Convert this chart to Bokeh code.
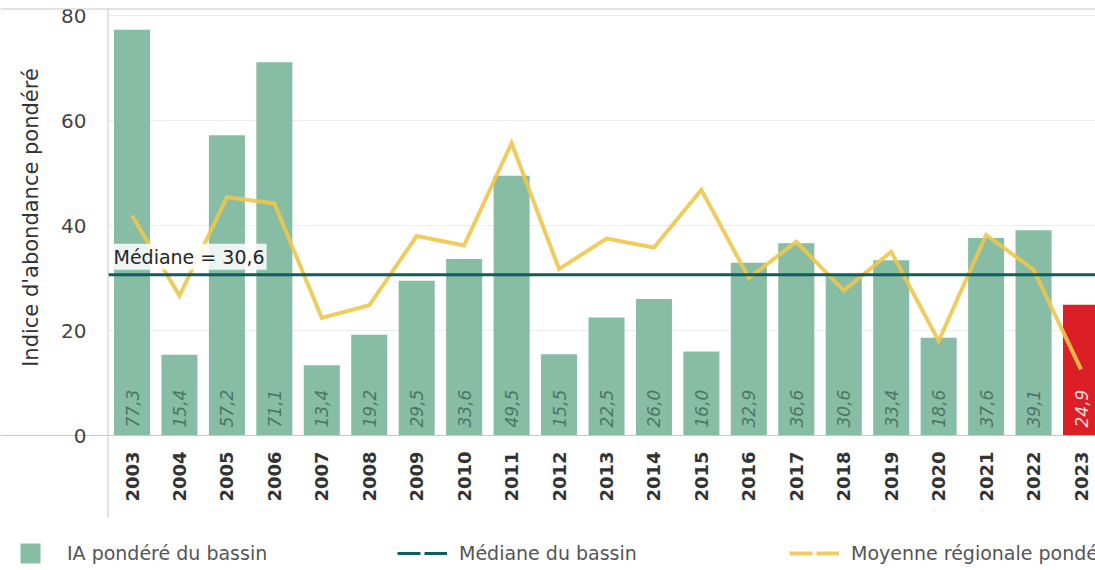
import math
from bokeh.plotting import figure
from bokeh.models import (Range1d, FixedTicker, Label, Legend, LegendItem,
                          ColumnDataSource, BoxAnnotation)
from bokeh.core.properties import value
from bokeh.embed import file_html
from bokeh.resources import INLINE

# ---------------- data ----------------
years = [2003, 2004, 2005, 2006, 2007, 2008, 2009, 2010, 2011, 2012, 2013,
         2014, 2015, 2016, 2017, 2018, 2019, 2020, 2021, 2022, 2023]
ia_basin = [77.3, 15.4, 57.2, 71.1, 13.4, 19.2, 29.5, 33.6, 49.5, 15.5, 22.5,
            26.0, 16.0, 32.9, 36.6, 30.6, 33.4, 18.6, 37.6, 39.1, 24.9]
regional_mean = [41.9, 26.6, 45.4, 44.2, 22.4, 24.8, 38.0, 36.2, 55.7, 31.7, 37.5,
                 35.8, 46.8, 30.0, 36.9, 27.6, 35.0, 18.0, 38.2, 31.6, 12.6]
basin_median = 30.6
y_ticks = [0, 20, 40, 60, 80]
legend_labels = ["IA pondéré du bassin", "Médiane du bassin", "Moyenne régionale pondérée"]
y_title = "Indice d'abondance pondéré"

# ---------------- styles / geometry ----------------
FONT = "DejaVu Sans"
BAR = "#88bda5"
RED = "#dc1f26"
TEAL = "#0f5c61"
YELLOW = "#edc64c"
GRID = "#ededed"
AXIS = "#c8c8c8"

W, H = 1095, 570
plot_left = 108      # pixel x of the value axis
plot_top = 8         # pixel y of the top rule
zero_px = 435        # pixel y of value 0
rule_bottom = 517    # lower end of the value-axis rule
step_px = 47.45
px_per_unit = 5.25

x_start = years[0] - 23.5 / step_px
x_lo = x_start - plot_left / step_px
x_hi = x_start + (W - plot_left) / step_px
y_hi = zero_px / px_per_unit
y_lo = -(H - zero_px) / px_per_unit

def fmt(v):
    return f"{v:.1f}".replace(".", ",")

last = years[-1]
src = ColumnDataSource(dict(
    year=years,
    ia=ia_basin,
    regional=regional_mean,
    color=[RED if y == last else BAR for y in years],
    label=[fmt(v) for v in ia_basin],
    label_color=["#ffdede" if y == last else "#4b7665" for y in years],
))

p = figure(width=W, height=H, x_range=Range1d(x_lo, x_hi), y_range=Range1d(y_lo, y_hi),
           output_backend="svg", toolbar_location=None, min_border=0)
p.outline_line_color = None
p.extra_y_ranges = {"proxy": Range1d(1000, 2000)}   # legend proxies, drawn off-canvas

# frame rules
p.add_layout(BoxAnnotation(bottom=H - plot_top - 1, top=H - plot_top,
                           bottom_units="screen", top_units="screen",
                           fill_color=AXIS, fill_alpha=1, line_color=None))
p.add_layout(BoxAnnotation(left=plot_left - 1, right=plot_left,
                           left_units="screen", right_units="screen",
                           bottom=H - rule_bottom, top=H - plot_top,
                           bottom_units="screen", top_units="screen",
                           fill_color=AXIS, fill_alpha=1, line_color=None))

# axes (fixed inside the drawing area)
p.xgrid.grid_line_color = None
p.ygrid.grid_line_color = GRID
p.ygrid.cross_bounds = (x_start, x_hi)
p.yaxis.ticker = FixedTicker(ticks=y_ticks)
p.xaxis.ticker = FixedTicker(ticks=years)
p.xaxis.fixed_location = 0
p.yaxis.fixed_location = x_start
for ax in (p.xaxis[0], p.yaxis[0]):
    ax.major_tick_line_color = None
    ax.minor_tick_line_color = None
    ax.major_label_text_font = FONT
p.xaxis.axis_line_color = AXIS
p.yaxis.axis_line_color = None
p.yaxis.major_label_text_font_size = "20px"
p.yaxis.major_label_text_color = "#444444"
p.yaxis.major_label_standoff = 16
p.xaxis.major_label_orientation = math.pi / 2
p.xaxis.major_label_text_font_size = "18px"
p.xaxis.major_label_text_font_style = "bold"
p.xaxis.major_label_text_color = "#333333"
p.xaxis.major_label_standoff = 10

# bars + values
p.vbar(x="year", top="ia", bottom=0, width=0.76, fill_color="color", line_color=None, source=src)
p.text(x="year", y=0, text="label", angle=math.pi / 2, y_offset=-8,
       text_align="left", text_baseline="middle", text_color="label_color",
       text_font=value(FONT), text_font_size="17px", text_font_style="italic",
       source=src)
# regional mean
p.line(x="year", y="regional", line_color=YELLOW, line_width=4, line_alpha=0.9,
       line_join="miter", source=src)
# median
p.segment(x0=[x_start], x1=[x_hi], y0=[basin_median], y1=[basin_median],
          line_color=TEAL, line_width=3)
p.add_layout(Label(x=x_start, y=basin_median, x_offset=3, y_offset=5,
                   text=f"Médiane = {fmt(basin_median)}", text_font=FONT,
                   text_font_size="19px", text_color="#262626", text_baseline="bottom",
                   background_fill_color="white", background_fill_alpha=0.85, padding=2))

# y title
p.add_layout(Label(x=30, y=H - 217, x_units="screen", y_units="screen", angle=math.pi / 2,
                   text=y_title, text_align="center", text_baseline="middle",
                   text_font=FONT, text_font_size="21px", text_color="#333333"))

# legend (proxies reuse the real data, mapped outside the canvas)
r_sq = p.scatter(x="year", y="ia", marker="square", size=20, fill_color=BAR,
                 line_color=None, source=src, y_range_name="proxy")
r_med = p.line(x="year", y="ia", line_color=TEAL, line_width=3, line_dash="23 4",
               source=src, y_range_name="proxy")
r_reg = p.line(x="year", y="regional", line_color=YELLOW, line_width=4, line_alpha=0.9,
               line_dash="23 4", source=src, y_range_name="proxy")

legend = Legend(items=[LegendItem(label=legend_labels[0], renderers=[r_sq]),
                       LegendItem(label=legend_labels[1], renderers=[r_med]),
                       LegendItem(label=legend_labels[2], renderers=[r_reg])],
                location=(5, H - 553 - 25), orientation="horizontal",
                glyph_width=50, glyph_height=50, label_standoff=12,
                label_width=300, spacing=30,
                padding=0, margin=0, border_line_color=None, background_fill_alpha=0,
                label_text_font=FONT, label_text_font_size="19px",
                label_text_color="#555555")
p.add_layout(legend, "center")

open("out.html", "w").write(file_html(p, INLINE))
